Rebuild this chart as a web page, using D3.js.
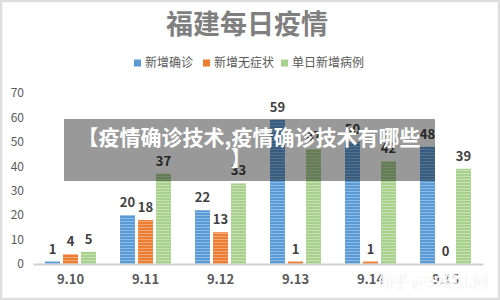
<!DOCTYPE html>
<html>
<head>
<meta charset="utf-8">
<script src="https://cdn.jsdelivr.net/npm/d3@7"></script>
<style>
  html, body { margin: 0; padding: 0; background: #fff; }
  #container { width: 500px; height: 300px; }
  text { font-family: "Noto Sans CJK SC", "Noto Sans", sans-serif; }
</style>
</head>
<body>
<div id="container"></div>
<script>
// 数据
const dates = ["9.10", "9.11", "9.12", "9.13", "9.14", "9.15"];
const seriesNames = ["新增确诊", "新增无症状", "单日新增病例"];
const confirmed = [1, 20, 22, 59, 50, 48];
const asymptomatic = [4, 18, 13, 1, 1, 0];
const dailyNew = [5, 37, 33, 47, 42, 39];
const yTicks = [0, 10, 20, 30, 40, 50, 60, 70];

const width = 500,
  height = 300;
const marginTop = 93,
  marginBottom = 36,
  marginLeft = 33,
  marginRight = 17;

const colors = ["#5b9bd5", "#ed7d31", "#a9d18e"];
const stripes = ["#8dbbe8", "#f4a776", "#c6e2b3"];

const values = [confirmed, asymptomatic, dailyNew];

const svg = d3
  .select("#container")
  .append("svg")
  .attr("width", width)
  .attr("height", height)
  .attr("viewBox", [0, 0, width, height]);

// 条纹填充
const defs = svg.append("defs");
colors.forEach((c, i) => {
  const p = defs
    .append("pattern")
    .attr("id", "stripe" + i)
    .attr("patternUnits", "userSpaceOnUse")
    .attr("width", 4)
    .attr("height", 3);
  p.append("rect").attr("width", 4).attr("height", 3).attr("fill", c);
  p.append("rect").attr("y", 2).attr("width", 4).attr("height", 1).attr("fill", stripes[i]);
});

// 外框
svg
  .append("rect")
  .attr("x", 1)
  .attr("y", 1)
  .attr("width", width - 2)
  .attr("height", height - 2)
  .attr("fill", "#fff")
  .attr("stroke", "#dedede")
  .attr("stroke-width", 2.5);

// 比例尺
const x0 = d3
  .scaleBand()
  .domain(dates)
  .range([marginLeft, width - marginRight])
  .paddingInner(0.32)
  .paddingOuter(0.16);

const x1 = d3
  .scaleBand()
  .domain(d3.range(3))
  .range([0, x0.bandwidth()])
  .paddingInner(0.167);

const y = d3
  .scaleLinear()
  .domain([0, 70])
  .range([height - marginBottom, marginTop]);

// 标题
svg
  .append("text")
  .attr("x", 247)
  .attr("y", 34)
  .attr("text-anchor", "middle")
  .attr("font-size", 27)
  .attr("font-weight", "bold")
  .attr("fill", "#7f7f7f")
  .text("福建每日疫情");

// 图例
const legendX = [134, 203, 281];
const legend = svg
  .append("g")
  .selectAll("g")
  .data(seriesNames)
  .join("g")
  .attr("transform", (d, i) => `translate(${legendX[i]}, 63)`);
legend
  .append("rect")
  .attr("x", 0)
  .attr("y", -3.5)
  .attr("width", 7)
  .attr("height", 7)
  .attr("fill", (d, i) => colors[i]);
legend
  .append("text")
  .attr("x", 11)
  .attr("dy", "0.36em")
  .attr("font-size", 12)
  .attr("fill", "#595959")
  .text((d) => d);

// y 轴
const yAxis = d3.axisLeft(y).tickValues(yTicks).tickSize(0).tickPadding(7);
svg
  .append("g")
  .attr("transform", `translate(${marginLeft - 2}, 0)`)
  .call(yAxis)
  .call((g) => g.select(".domain").remove())
  .call((g) =>
    g
      .selectAll("text")
      .attr("font-size", 12)
      .attr("fill", "#595959")
      .attr("font-family", "'Noto Sans', sans-serif")
  );

// 柱子
const groups = svg
  .append("g")
  .selectAll("g")
  .data(dates)
  .join("g")
  .attr("transform", (d) => `translate(${x0(d)}, 0)`);

groups
  .selectAll("rect")
  .data((d, j) => values.map((v, i) => ({ i, v: v[j] })))
  .join("rect")
  .attr("x", (d) => x1(d.i))
  .attr("y", (d) => y(d.v))
  .attr("width", x1.bandwidth())
  .attr("height", (d) => y(0) - y(d.v))
  .attr("fill", (d) => `url(#stripe${d.i})`);

groups
  .selectAll("text")
  .data((d, j) => values.map((v, i) => ({ i, v: v[j] })))
  .join("text")
  .attr("x", (d) => x1(d.i) + x1.bandwidth() / 2)
  .attr("y", (d) => y(d.v) - 8)
  .attr("text-anchor", "middle")
  .attr("font-size", 13)
  .attr("font-weight", "bold")
  .attr("fill", "#404040")
  .attr("font-family", "'Noto Sans', sans-serif")
  .text((d) => d.v);

// x 轴
const xAxis = d3.axisBottom(x0).tickSize(0).tickPadding(11);
svg
  .append("g")
  .attr("transform", `translate(0, ${y(0)})`)
  .call(xAxis)
  .call((g) =>
    g.select(".domain").attr("stroke", "#d0d0d0").attr("stroke-width", 2)
  )
  .call((g) =>
    g
      .selectAll("text")
      .attr("font-size", 13)
      .attr("font-weight", "bold")
      .attr("fill", "#595959")
      .attr("font-family", "'Noto Sans', sans-serif")
  );

// 覆盖的标题条
svg
  .append("rect")
  .attr("x", 64)
  .attr("y", 119)
  .attr("width", 371)
  .attr("height", 62)
  .attr("fill", "rgba(0,0,0,0.4)");

svg
  .append("text")
  .attr("x", 249)
  .attr("y", 145)
  .attr("text-anchor", "middle")
  .attr("font-size", 21)
  .attr("font-weight", "bold")
  .attr("fill", "#fff")
  .text("【疫情确诊技术,疫情确诊技术有哪些");

svg
  .append("text")
  .attr("x", 241)
  .attr("y", 166)
  .attr("text-anchor", "middle")
  .attr("font-size", 21)
  .attr("font-weight", "bold")
  .attr("fill", "#fff")
  .text("】");

// 水印
svg
  .append("text")
  .attr("x", 488)
  .attr("y", 287)
  .attr("text-anchor", "end")
  .attr("font-size", 15)
  .attr("fill", "#c8c8c8")
  .attr("stroke", "#fff")
  .attr("stroke-width", 0.8)
  .attr("opacity", 0.9)
  .text("知乎 @39健康网");
</script>
</body>
</html>
